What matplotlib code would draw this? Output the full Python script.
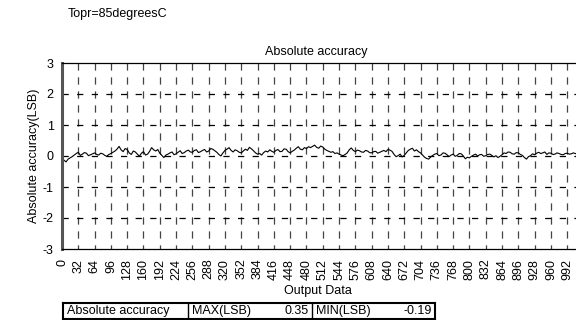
import matplotlib
matplotlib.use("Agg")
import matplotlib.pyplot as plt
import numpy as np
from matplotlib.lines import Line2D

plt.rcParams['font.family'] = ['Liberation Sans', 'DejaVu Sans']

codes = list(range(0, 1024, 4))
accuracy = [
    -0.05, -0.14, -0.19, -0.10, -0.06, -0.02, 0.03, 0.08,
    0.12, 0.02, 0.06, 0.11, 0.09, 0.01, 0.04, 0.07,
    0.10, 0.05, 0.03, 0.09, 0.07, 0.02, -0.01, 0.05,
    0.08, 0.12, 0.16, 0.22, 0.31, 0.20, 0.14, 0.24,
    0.21, 0.10, 0.05, 0.16, 0.13, 0.06, -0.01, 0.09,
    0.14, 0.03, 0.06, 0.15, 0.27, 0.20, 0.16, 0.21,
    0.09, 0.02, -0.05, 0.03, 0.06, 0.10, 0.13, 0.04,
    0.07, 0.12, 0.17, 0.08, 0.11, 0.16, 0.19, 0.13,
    0.12, 0.18, 0.20, 0.11, 0.14, 0.18, 0.21, 0.13,
    0.16, 0.24, 0.22, 0.17, 0.12, 0.05, 0.00, 0.10,
    0.18, 0.22, 0.27, 0.18, 0.13, 0.20, 0.17, 0.12,
    0.10, 0.16, 0.22, 0.18, 0.28, 0.23, 0.17, 0.10,
    0.06, 0.08, 0.03, 0.11, 0.16, 0.13, 0.20, 0.15,
    0.12, 0.18, 0.21, 0.14, 0.15, 0.23, 0.22, 0.14,
    0.10, 0.15, 0.19, 0.25, 0.30, 0.22, 0.20, 0.27,
    0.24, 0.30, 0.27, 0.31, 0.35, 0.28, 0.25, 0.32,
    0.29, 0.22, 0.18, 0.15, 0.12, 0.14, 0.08, 0.10,
    0.06, 0.03, 0.01, 0.05, 0.10, 0.20, 0.26, 0.18,
    0.14, 0.19, 0.17, 0.13, 0.12, 0.18, 0.16, 0.11,
    0.10, 0.14, 0.15, 0.09, 0.12, 0.15, 0.18, 0.14,
    0.21, 0.19, 0.15, 0.05, -0.02, 0.01, 0.06, -0.03,
    0.02, 0.10, 0.18, 0.22, 0.25, 0.16, 0.20, 0.14,
    0.10, 0.03, -0.04, -0.08, -0.10, -0.03, 0.02, 0.06,
    0.08, 0.01, 0.03, 0.10, 0.09, 0.04, -0.02, 0.03,
    0.06, -0.01, 0.02, 0.08, 0.07, 0.00, -0.09, -0.04,
    -0.06, -0.01, 0.03, 0.06, 0.00, 0.04, 0.05, -0.01,
    0.01, 0.05, 0.06, 0.02, -0.03, 0.01, -0.05, -0.01,
    0.04, 0.10, 0.08, 0.13, 0.12, 0.07, 0.06, 0.11,
    0.10, 0.05, 0.02, -0.05, -0.10, -0.02, 0.01, 0.07,
    0.04, 0.09, 0.12, 0.08, 0.10, 0.13, 0.05, 0.10,
    0.09, 0.05, 0.06, 0.10, 0.08, 0.05, 0.04, 0.08,
    0.09, 0.06, 0.07, 0.10, 0.08, 0.05, 0.06, 0.08,
]
xticks = list(range(0, 1024, 32))
yticks = [-3, -2, -1, 0, 1, 2, 3]
title = "Absolute accuracy"
condition = "Topr=85degreesC"
xlabel = "Output Data"
ylabel = "Absolute accuracy(LSB)"
table_name = "Absolute accuracy"

FS = 9
fig = plt.figure(figsize=(5.76, 3.2), dpi=100)
ax = fig.add_axes([62/576, 1-249/320, (583-62)/576, (249-63)/320])

ax.plot(codes, accuracy, color='black', lw=0.8)
ax.set_xlim(0, 1023)
ax.set_ylim(-3, 3)
ax.set_xticks(xticks)
ax.set_xticklabels([str(t) for t in xticks], rotation=90, fontsize=FS)
ax.set_yticks(yticks)
ax.set_yticklabels([str(t) for t in yticks], fontsize=FS)
ax.tick_params(axis='both', which='major', direction='in', length=0, pad=6)
ax.tick_params(axis='x', pad=7)

for x in xticks[1:]:
    ax.axvline(x, color='#444444', lw=0.9, linestyle=(2.5, (5.8, 5.4)), zorder=0)
for y in yticks[1:-1]:
    ax.axhline(y, color='black', lw=0.9, linestyle=(0, (5, 6.7)), zorder=0)

ax.spines['left'].set_linewidth(2.2)
ax.spines['left'].set_color('#555555')
ax.spines['right'].set_visible(False)
for s in ['top', 'bottom']:
    ax.spines[s].set_linewidth(0.9)

ax.set_title(title, fontsize=FS, pad=6, x=(316-62)/521)
ax.set_ylabel(ylabel, fontsize=FS, labelpad=2)
fig.text(318/576, 1-291/320, xlabel, fontsize=FS, ha='center', va='center')

fig.text(68/576, 1-14/320, condition, fontsize=FS, va='center', ha='left')

# summary table
vmax = max(accuracy)
vmin = min(accuracy)
ty0, ty1 = 1-319/320, 1-303/320
tx = [63/576, 188/576, 312/576, 435/576]
def fl(x0, y0, x1, y1, lw=1.0):
    fig.add_artist(Line2D([x0, x1], [y0, y1], color='black', lw=lw, transform=fig.transFigure))
fl(tx[0], ty1, tx[3], ty1, 1.5)
fl(tx[0], ty0, tx[3], ty0, 1.5)
fl(tx[0], ty0, tx[0], ty1, 1.5)
fl(tx[3], ty0, tx[3], ty1, 1.5)
fl(tx[1], ty0, tx[1], ty1, 1.0)
fl(tx[2], ty0, tx[2], ty1, 1.0)
ym = (ty0 + ty1) / 2
fig.text(67/576, ym, table_name, fontsize=FS, va='center', ha='left')
fig.text(192/576, ym, "MAX(LSB)", fontsize=FS, va='center', ha='left')
fig.text(309/576, ym, f"{vmax:.2f}", fontsize=FS, va='center', ha='right')
fig.text(316/576, ym, "MIN(LSB)", fontsize=FS, va='center', ha='left')
fig.text(432/576, ym, f"{vmin:.2f}", fontsize=FS, va='center', ha='right')

fig.savefig("out.png", dpi=100)
